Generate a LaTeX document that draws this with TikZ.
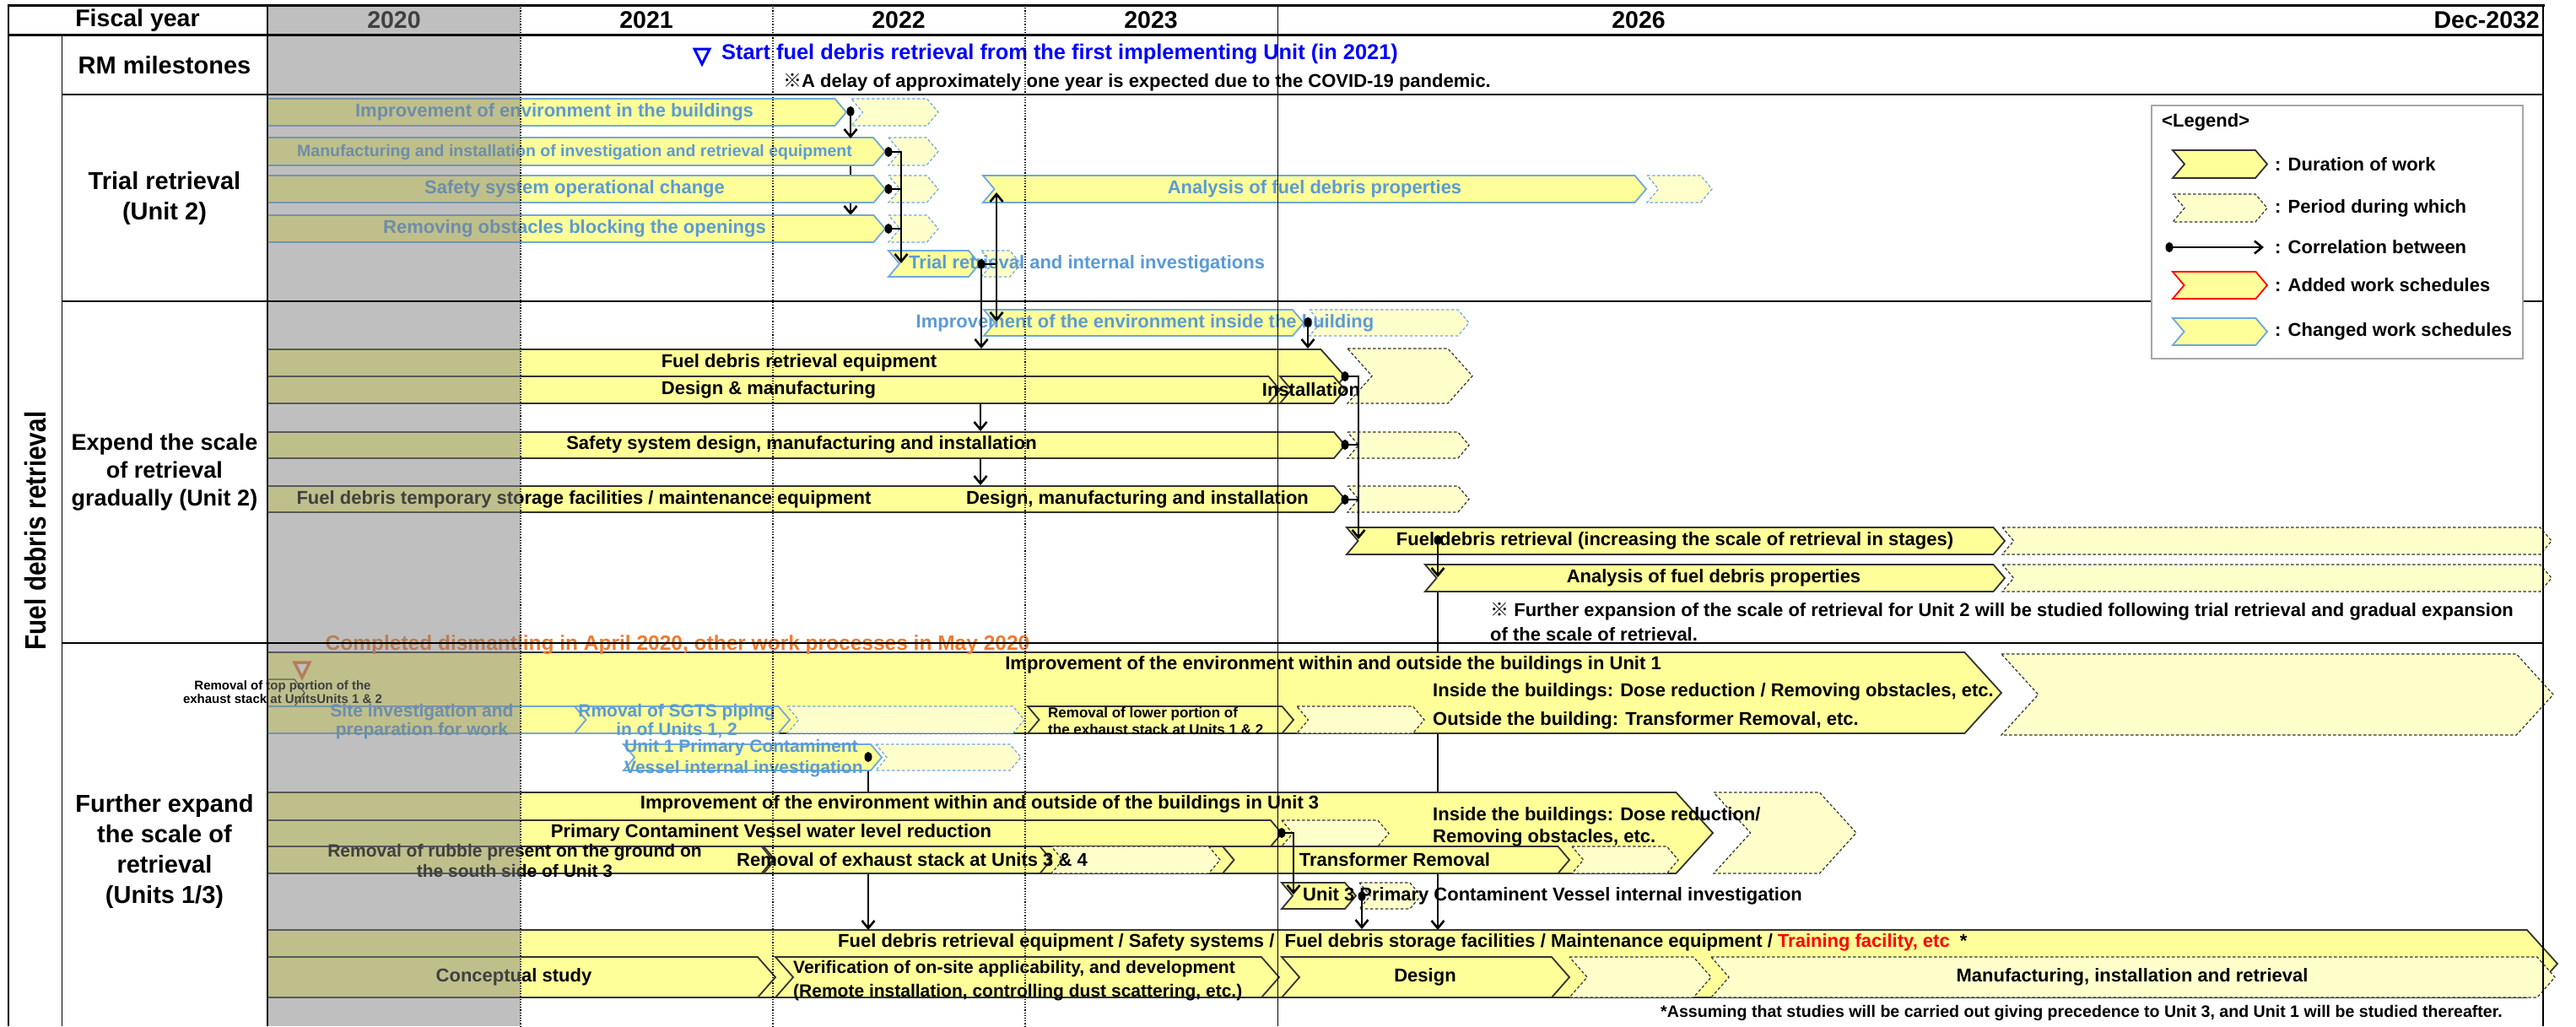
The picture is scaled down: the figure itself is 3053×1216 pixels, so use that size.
\documentclass[tikz,border=0pt]{standalone}
\usepackage{fontspec}
\setmainfont{Liberation Sans}
\newfontfamily\cjk{Noto Sans CJK JP}
\newfontfamily\vfont[FakeStretch=0.85]{Liberation Sans}
\usetikzlibrary{arrows.meta}
\definecolor{byel}{HTML}{FFFF99}
\definecolor{lyel}{HTML}{FFFFCC}
\definecolor{cblue}{HTML}{6FA8DC}
\definecolor{tblue}{HTML}{5B9BD5}
\definecolor{dgray}{HTML}{333333}
\definecolor{orng}{HTML}{ED7D31}
\definecolor{mblue}{HTML}{0000FF}
\newcommand{\fs}[2]{\fontsize{#1}{#2}\selectfont}
\newcommand{\chevN}[5]{%
  \pgfmathsetmacro{\dd}{0.47*(#5-#4)-1.5}%
  \pgfmathsetmacro{\ym}{(#4+#5)/2}%
  \draw[#1] (#2,#4) -- ({#3-\dd},#4) -- (#3,\ym) -- ({#3-\dd},#5) -- (#2,#5) -- ({#2+\dd},\ym) -- cycle;}
\newcommand{\chevF}[5]{%
  \pgfmathsetmacro{\dd}{0.47*(#5-#4)-1.5}%
  \pgfmathsetmacro{\ym}{(#4+#5)/2}%
  \draw[#1] (#2,#4) -- ({#3-\dd},#4) -- (#3,\ym) -- ({#3-\dd},#5) -- (#2,#5) -- cycle;}
\newcommand{\dotat}[1]{\fill (#1) ellipse[x radius=4.5pt, y radius=6pt];}
\tikzset{
 sb/.style={fill=byel, draw=dgray, line width=1.8pt, line join=miter},
 bb/.style={fill=byel, draw=cblue, line width=1.8pt, line join=miter},
 db/.style={fill=lyel, draw=dgray, line width=1.2pt, dash pattern=on 3.5pt off 2.5pt},
 bdb/.style={fill=lyel, draw=cblue, line width=1.2pt, dash pattern=on 3.5pt off 2.5pt},
 rb/.style={fill=byel, draw=red, line width=1.8pt, line join=miter},
 tx/.style={inner sep=0, font=\bfseries\fs{22}{26}},
 tb/.style={tx, text=tblue},
 conn/.style={line width=2.6pt, -{Straight Barb[length=9pt,width=15pt]}},
 link/.style={line width=2.6pt},
 lab/.style={inner sep=0, font=\bfseries\fs{29}{36}, align=center},
 yr/.style={inner sep=0, font=\bfseries\fs{28.5}{30}},
 grid/.style={line width=1.5pt},
 dotgrid/.style={line width=1.2pt, dotted},
}
\begin{document}
\begin{tikzpicture}[x=1pt,y=-1pt]
\useasboundingbox (0,0) rectangle (3053,1216);
\fill[white] (0,0) rectangle (3053,1216);

% ---------- background connectors ----------
\coordinate (cT1) at (1008,132);
\coordinate (cT4) at (1008,255);
\draw[conn] (cT1) -- (cT4);
\coordinate (cU1P) at (1029,897);
\coordinate (cF1a) at (1029,1102);
\draw[conn] (cU1P) -- (cF1a);
\coordinate (cE7b) at (1704,701);
\coordinate (cF1b) at (1704,1102);
\draw[conn] (cE7b) -- (cF1b);

% ---------- Trial retrieval ----------
\chevF{bb}{317}{1003}{117}{149}
\chevN{bdb}{1009}{1112}{117}{149}
\chevF{bb}{317}{1049}{163}{196}
\chevN{bdb}{1053}{1112}{163}{196}
\chevF{bb}{317}{1049}{208}{240}
\chevN{bdb}{1053}{1112}{208}{240}
\chevF{bb}{317}{1049}{255}{287}
\chevN{bdb}{1053}{1112}{255}{287}
\chevN{bb}{1053}{1161}{297}{328}
\chevN{bdb}{1163}{1210}{297}{328}
\chevN{bb}{1165}{1951}{208}{240}
\chevN{bdb}{1952}{2029}{208}{240}

% ---------- Expand ----------
\chevN{bb}{1166}{1545}{367}{398}
\chevN{bdb}{1552}{1741}{367}{398}
\chevF{sb}{317}{1594}{414}{478}
\chevF{sb}{317}{1517}{446}{478}
\chevN{sb}{1517}{1594}{446}{478}
\chevN{db}{1597}{1745}{413}{478}
\chevF{sb}{317}{1594}{512}{543}
\chevN{db}{1597}{1741}{512}{543}
\chevF{sb}{317}{1594}{576}{607}
\chevN{db}{1597}{1741}{576}{607}
\chevN{sb}{1596}{2376}{625}{657}
\chevN{db}{2373}{3024}{625}{657}
\chevN{sb}{1689}{2376}{669}{701}
\chevN{db}{2373}{3024}{669}{701}

% ---------- Further expand ----------
\chevF{sb}{317}{2372}{773}{869}
\chevN{db}{2372}{3026}{775}{871}
\draw[dgray, line width=1.2pt] (317,805) -- (349,805) -- (361,821) -- (349,837);
\chevF{bb}{317}{695}{837}{869}
\chevN{bb}{681}{936}{837}{869}
\chevN{bdb}{933}{1214}{837}{869}
\chevN{sb}{1218}{1533}{837}{869}
\chevN{db}{1537}{1688}{837}{869}
\chevN{bdb}{1038}{1210}{882}{913}
\chevN{bb}{739}{1045}{882}{913}
\chevF{sb}{317}{2030}{939}{1035}
\chevN{db}{2031}{2200}{939}{1035}
\chevF{sb}{317}{1519}{972}{1003}
\chevN{db}{1519}{1646}{972}{1003}
\chevF{sb}{317}{916}{1003}{1035}
\chevN{sb}{905}{1246}{1003}{1035}
\chevN{db}{1246}{1446}{1003}{1035}
\chevN{sb}{1449}{1860}{1003}{1035}
\chevN{db}{1863}{1989}{1003}{1035}
\chevN{sb}{1519}{1607}{1046}{1077}
\chevN{db}{1611}{1684}{1046}{1077}
\chevF{sb}{317}{3031}{1102}{1182}
\chevF{sb}{317}{919}{1134}{1182}
\chevN{sb}{919}{1516}{1134}{1182}
\chevN{sb}{1519}{1860}{1134}{1182}
\chevN{db}{1860}{2028}{1134}{1182}
\chevN{db}{2028}{3028}{1134}{1182}

% ---------- texts: header & labels ----------
\node[yr] (hfy) at (163,24) {Fiscal year};
\node[yr] (h20) at (467,24) {2020};
\node[yr] (h21) at (766,24) {2021};
\node[yr] (h22) at (1065,24) {2022};
\node[yr] (h23) at (1364,24) {2023};
\node[yr] (h26) at (1942,24) {2026};
\node[yr, anchor=east] (h32) at (3010,24) {Dec-2032};
\node[lab] (lrm) at (195,77) {RM milestones};
\node[lab] (ltr) at (195,235) {Trial retrieval\\(Unit 2)};
\node[lab, font=\bfseries\fs{27}{33}] (lex) at (195,560) {Expend the scale\\of retrieval\\gradually (Unit 2)};
\node[lab] (lfe) at (195,1009) {Further expand\\the scale of\\retrieval\\(Units 1/3)};
\node[rotate=90, inner sep=0, font=\vfont\bfseries\fs{35}{40}] (lfd) at (42,629) {Fuel debris retrieval};

% milestones
\draw[mblue, line width=3pt] (823,58) -- (841,58) -- (832,76) -- cycle;
\node[tx, anchor=west, text=mblue, font=\bfseries\fs{25.4}{28}] (ms1) at (855,64) {Start fuel debris retrieval from the first implementing Unit (in 2021)};
\node[tx, anchor=west] (ms2) at (928,98) {{\cjk ※}A delay of approximately one year is expected due to the COVID-19 pandemic.};

% trial texts
\node[tb] (tT1) at (657,133) {Improvement of environment in the buildings};
\node[tb, font=\bfseries\fs{19.5}{22}] (tT2) at (681,180) {Manufacturing and installation of investigation and retrieval equipment};
\node[tb] (tT3) at (681,224) {Safety system operational change};
\node[tb] (tT4) at (681,271) {Removing obstacles blocking the openings};
\node[tb, anchor=west] (tT5) at (1077,313) {Trial retrieval and internal investigations};
\node[tb] (tT6) at (1558,224) {Analysis of fuel debris properties};

% expand texts
\node[tb] (tE1) at (1357,383) {Improvement of the environment inside the building};
\node[tx] (tE2) at (947,430) {Fuel debris retrieval equipment};
\node[tx] (tE3) at (911,462) {Design \& manufacturing};
\node[tx] (tE3b) at (1554,462) {Installation};
\node[tx] (tE4) at (950,527) {Safety system design, manufacturing and installation};
\node[tx] (tE5a) at (692,592) {Fuel debris temporary storage facilities / maintenance equipment};
\node[tx] (tE5b) at (1348,592) {Design, manufacturing and installation};
\node[tx] (tE6) at (1985,641) {Fuel debris retrieval (increasing the scale of retrieval in stages)};
\node[tx] (tE7) at (2031,685) {Analysis of fuel debris properties};
\node[tx, anchor=west] (nE1) at (1766,725) {{\cjk ※} Further expansion of the scale of retrieval for Unit 2 will be studied following trial retrieval and gradual expansion};
\node[tx, anchor=west] (nE2) at (1766,752) {of the scale of retrieval.};

% further texts
\node[tx, text=orng, font=\bfseries\fs{24.5}{28}] (tOr) at (803,764) {Completed dismantling in April 2020, other work processes in May 2020};
\draw[orng, line width=3.5pt, fill=white] (349,785) -- (367,785) -- (358,803) -- cycle;
\node[tx, align=center, font=\bfseries\fs{15}{16}] (tStk) at (335,820) {Removal of top portion of the\\exhaust stack at UnitsUnits 1 \& 2};
\node[tx] (tU0) at (1580,788) {Improvement of the environment within and outside the buildings in Unit 1};
\node[tx, anchor=west] (tU0b) at (1698,820) {Inside the buildings: Dose reduction / Removing obstacles, etc.};
\node[tx, anchor=west] (tU0c) at (1698,854) {Outside the building: Transformer Removal, etc.};
\node[tb, align=center, font=\bfseries\fs{21}{22}] (tU1a) at (500,855) {Site investigation and\\preparation for work};
\node[tb, align=center, font=\bfseries\fs{21}{22}] (tU1b) at (802,855) {Rmoval of SGTS piping\\in of Units 1, 2};
\node[tx, align=left, anchor=west, font=\bfseries\fs{17}{20}] (tU1c) at (1242,854) {Removal of lower portion of\\the exhaust stack at Units 1 \& 2};
\node[tb, align=left, anchor=west, font=\bfseries\fs{21}{25}] (tU1P) at (740,899) {Unit 1 Primary Contaminent\\Vessel internal investigation};
\node[tx] (tU3) at (1161,953) {Improvement of the environment within and outside of the buildings in Unit 3};
\node[tx, align=left, anchor=west, font=\bfseries\fs{22}{26}] (tU3x) at (1698,980) {Inside the buildings: Dose reduction/\\Removing obstacles, etc.};
\node[tx] (tU3b) at (914,987) {Primary Contaminent Vessel water level reduction};
\node[tx, align=center, font=\bfseries\fs{21}{24}] (tU3c) at (610,1020) {Removal of rubble present on the ground on\\the south side of Unit 3};
\node[tx] (tU3d) at (1081,1019) {Removal of exhaust stack at Units 3 \& 4};
\node[tx] (tU3e) at (1653,1019) {Transformer Removal};
\node[tx, anchor=west] (tU3P) at (1544,1062) {Unit 3 Primary Contaminent Vessel internal investigation};
\node[tx, anchor=west] (tF1) at (993,1117) {Fuel debris retrieval equipment / Safety systems /\ \ Fuel debris storage facilities / Maintenance equipment / \textcolor{red}{Training facility, etc}\ \ *};
\node[tx] (tF2a) at (609,1158) {Conceptual study};
\node[tx, align=left, anchor=west, font=\bfseries\fs{21}{28}] (tF2b) at (940,1162) {Verification of on-site applicability, and development\\(Remote installation, controlling dust scattering, etc.)};
\node[tx] (tF2c) at (1689,1158) {Design};
\node[tx] (tF2d) at (2527,1158) {Manufacturing, installation and retrieval};
\node[tx, anchor=west, font=\bfseries\fs{19.6}{22}] (tFoot) at (1968,1200) {*Assuming that studies will be carried out giving precedence to Unit 3, and Unit 1 will be studied thereafter.};

% ---------- front connectors ----------
\coordinate (aT2) at (1008,164);
\draw[conn] (cT1) -- (aT2);
\dotat{cT1}
\coordinate (dT2) at (1053,180);
\coordinate (dT3) at (1053,224);
\coordinate (dT4) at (1053,271);
\coordinate (aT5) at (1068,312);
\draw[link] (dT3) -- (dT3 -| aT5);
\draw[link] (dT4) -- (dT4 -| aT5);
\draw[conn] (dT2) -| (aT5);
\dotat{dT2}\dotat{dT3}\dotat{dT4}
\coordinate (dT5) at (1163,313);
\coordinate (jT5) at (1181,313);
\coordinate (aT6) at (1181,228);
\coordinate (aE1) at (1181,381);
\coordinate (aE2a) at (1163,413);
\draw[conn] (dT5) -- (aE2a);
\draw[link] (dT5) -- (jT5);
\draw[conn] (jT5) -- (aT6);
\draw[conn] (jT5) -- (aE1);
\dotat{dT5}
\coordinate (dE1) at (1550,382);
\coordinate (aE2b) at (1550,413);
\draw[conn] (dE1) -- (aE2b);
\dotat{dE1}
\coordinate (sE3) at (1162,478);
\coordinate (aE4) at (1162,511);
\coordinate (sE4) at (1162,543);
\coordinate (aE5) at (1162,575);
\draw[conn] (sE3) -- (aE4);
\draw[conn] (sE4) -- (aE5);
\coordinate (dE2) at (1594,446);
\coordinate (dE4) at (1594,527);
\coordinate (dE5) at (1594,592);
\coordinate (aE6) at (1610,639);
\draw[link] (dE4) -- (dE4 -| aE6);
\draw[link] (dE5) -- (dE5 -| aE6);
\draw[conn] (dE2) -| (aE6);
\dotat{dE2}\dotat{dE4}\dotat{dE5}
\coordinate (dE6) at (1704,640);
\coordinate (aE7) at (1704,684);
\draw[conn] (dE6) -- (aE7);
\dotat{dE6}
\dotat{cU1P}
\coordinate (cU3b) at (1519,987);
\coordinate (aU3P) at (1533,1060);
\draw[conn] (cU3b) -| (aU3P);
\dotat{cU3b}
\coordinate (dU3P) at (1614,1062);
\coordinate (aF1c) at (1614,1101);
\draw[conn] (dU3P) -- (aF1c);
\dotat{dU3P}

% ---------- 2020 shading ----------
\fill[gray, opacity=0.5] (317,6) rectangle (617,1216);

% ---------- grid ----------
\draw[line width=3pt] (8.5,6) -- (3015.5,6);
\draw[line width=3pt] (10,41) -- (3014,41);
\draw[line width=2pt] (10,6) -- (10,1216);
\draw[line width=2pt] (3014,6) -- (3014,1216);
\draw[grid] (317,6) -- (317,1216);
\draw[line width=1pt] (73,41) -- (73,1216);
\draw[dotgrid] (617,6) -- (617,1216);
\draw[dotgrid] (916,6) -- (916,1216);
\draw[dotgrid] (1215,6) -- (1215,1216);
\draw[line width=1pt] (1514,6) -- (1514,1216);
\draw[grid] (73,112) -- (3014,112);
\draw[grid] (73,357) -- (3014,357);
\draw[grid] (73,762) -- (3014,762);

% ---------- legend ----------
\draw[fill=white, draw=gray!70, line width=1.5pt] (2550,125) rectangle (2990,425);
\node[tx, anchor=west] (lg0) at (2562,145) {<Legend>};
\chevN{sb}{2575}{2687}{178}{211}
\chevN{db}{2575}{2687}{230}{263}
\coordinate (lgA) at (2571,293);
\coordinate (lgB) at (2683,293);
\draw[conn] (lgA) -- (lgB);
\dotat{lgA}
\chevN{rb}{2575}{2687}{322}{354}
\chevN{bb}{2575}{2687}{377}{409}
\node[tx, anchor=west] (lg1) at (2696,195) {: Duration of work};
\node[tx, anchor=west] (lg2) at (2696,247) {: Period during which};
\node[tx, anchor=west] (lg3) at (2696,293) {: Correlation between};
\node[tx, anchor=west] (lg4) at (2696,338) {: Added work schedules};
\node[tx, anchor=west] (lg5) at (2696,393) {: Changed work schedules};
\end{tikzpicture}
\end{document}
